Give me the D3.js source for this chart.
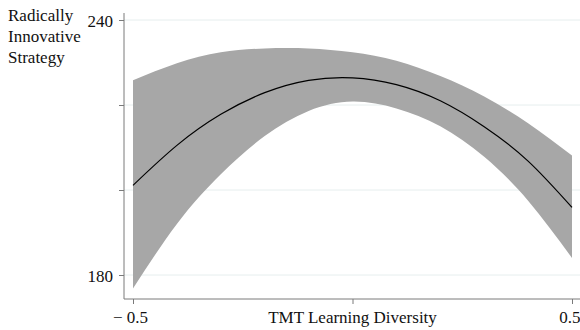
<!DOCTYPE html>
<html>
<head>
<meta charset="utf-8">
<script src="https://cdn.jsdelivr.net/npm/d3@7"></script>
<style>
  html, body { margin: 0; padding: 0; background: #fff; }
  svg { display: block; }
  text { font-family: "Liberation Serif", "Times New Roman", serif; fill: #111; }
</style>
</head>
<body>
<svg id="chart" width="580" height="330"></svg>
<script>
// Data
const xValues = [-0.5, -0.4, -0.3, -0.2, -0.1, 0, 0.1, 0.2, 0.3, 0.4, 0.5];
const meanValues = [201.1, 210.5, 217.8, 222.9, 225.8, 226.4, 224.8, 221.0, 214.9, 206.8, 195.9];
const upperValues = [225.8, 229.8, 232.4, 233.3, 233.3, 232.4, 230.4, 226.8, 222.0, 215.7, 208.1];
const lowerValues = [176.8, 192.0, 203.7, 212.7, 218.6, 220.8, 219.2, 215.0, 207.8, 197.5, 184.0];
const yTicks = [180, 200, 220, 240];
const yTickLabels = {180: "180", 240: "240"};
const xTicks = [-0.5, 0, 0.5];
const xTickLabels = {"-0.5": "\u2212 0.5", "0.5": "0.5"};
const yTitleLines = ["Radically", "Innovative", "Strategy"];
const xTitle = "TMT Learning Diversity";

const svg = d3.select("#chart");
const x = d3.scaleLinear().domain([-0.5, 0.5]).range([133, 572]);
const y = d3.scaleLinear().domain([180, 240]).range([275, 20]);
const axisX0 = 124, axisY0 = 299;

const rows = xValues.map((v, i) => ({x: v, m: meanValues[i], hi: upperValues[i], lo: lowerValues[i]}));

// gridlines
svg.append("g").selectAll("line").data(yTicks).join("line")
  .attr("x1", axisX0).attr("x2", 580)
  .attr("y1", d => y(d)).attr("y2", d => y(d))
  .attr("stroke", "#e6eeee").attr("stroke-width", 1);

// confidence band
svg.append("path").datum(rows)
  .attr("d", d3.area().x(d => x(d.x)).y0(d => y(d.lo)).y1(d => y(d.hi)).curve(d3.curveNatural))
  .attr("fill", "#a7a7a7");

// mean line
svg.append("path").datum(rows)
  .attr("d", d3.line().x(d => x(d.x)).y(d => y(d.m)).curve(d3.curveNatural))
  .attr("fill", "none").attr("stroke", "#000").attr("stroke-width", 1.2);

// y axis
const yAxis = svg.append("g").attr("transform", `translate(${axisX0},0)`)
  .call(d3.axisLeft(y).tickValues(yTicks).tickSize(5).tickSizeOuter(0)
    .tickFormat(d => yTickLabels[d] || ""));
yAxis.select(".domain").attr("d", `M0,13V${axisY0}`).attr("stroke", "#7a7a7a");
yAxis.selectAll(".tick line").attr("stroke", "#7a7a7a");
yAxis.selectAll(".tick text").attr("x", -11).attr("dy", "0.38em")
  .style("font-family", '"Liberation Serif", serif').style("font-size", "17px").attr("fill", "#111");

// x axis
const xAxis = svg.append("g").attr("transform", `translate(0,${axisY0})`)
  .call(d3.axisBottom(x).tickValues(xTicks).tickSize(5).tickSizeOuter(0)
    .tickFormat(d => xTickLabels[String(d)] || ""));
xAxis.select(".domain").attr("d", `M${axisX0},0H580`).attr("stroke", "#7a7a7a");
xAxis.selectAll(".tick line").attr("stroke", "#7a7a7a");
xAxis.selectAll(".tick text").attr("y", 12).attr("dy", "0.71em")
  .style("font-family", '"Liberation Serif", serif').style("font-size", "17px").attr("fill", "#111")
  .attr("text-anchor", d => d === 0.5 ? "end" : "middle")
  .attr("dx", d => d === -0.5 ? -3 : (d === 0.5 ? 8 : 0));

// x title
svg.append("text").attr("x", x(0)).attr("y", 323).attr("text-anchor", "middle")
  .style("font-size", "17px").text(xTitle);

// y title
svg.append("g").selectAll("text").data(yTitleLines).join("text")
  .attr("x", 8).attr("y", (d, i) => 21 + i * 21)
  .style("font-size", "17px").text(d => d);
</script>
</body>
</html>
